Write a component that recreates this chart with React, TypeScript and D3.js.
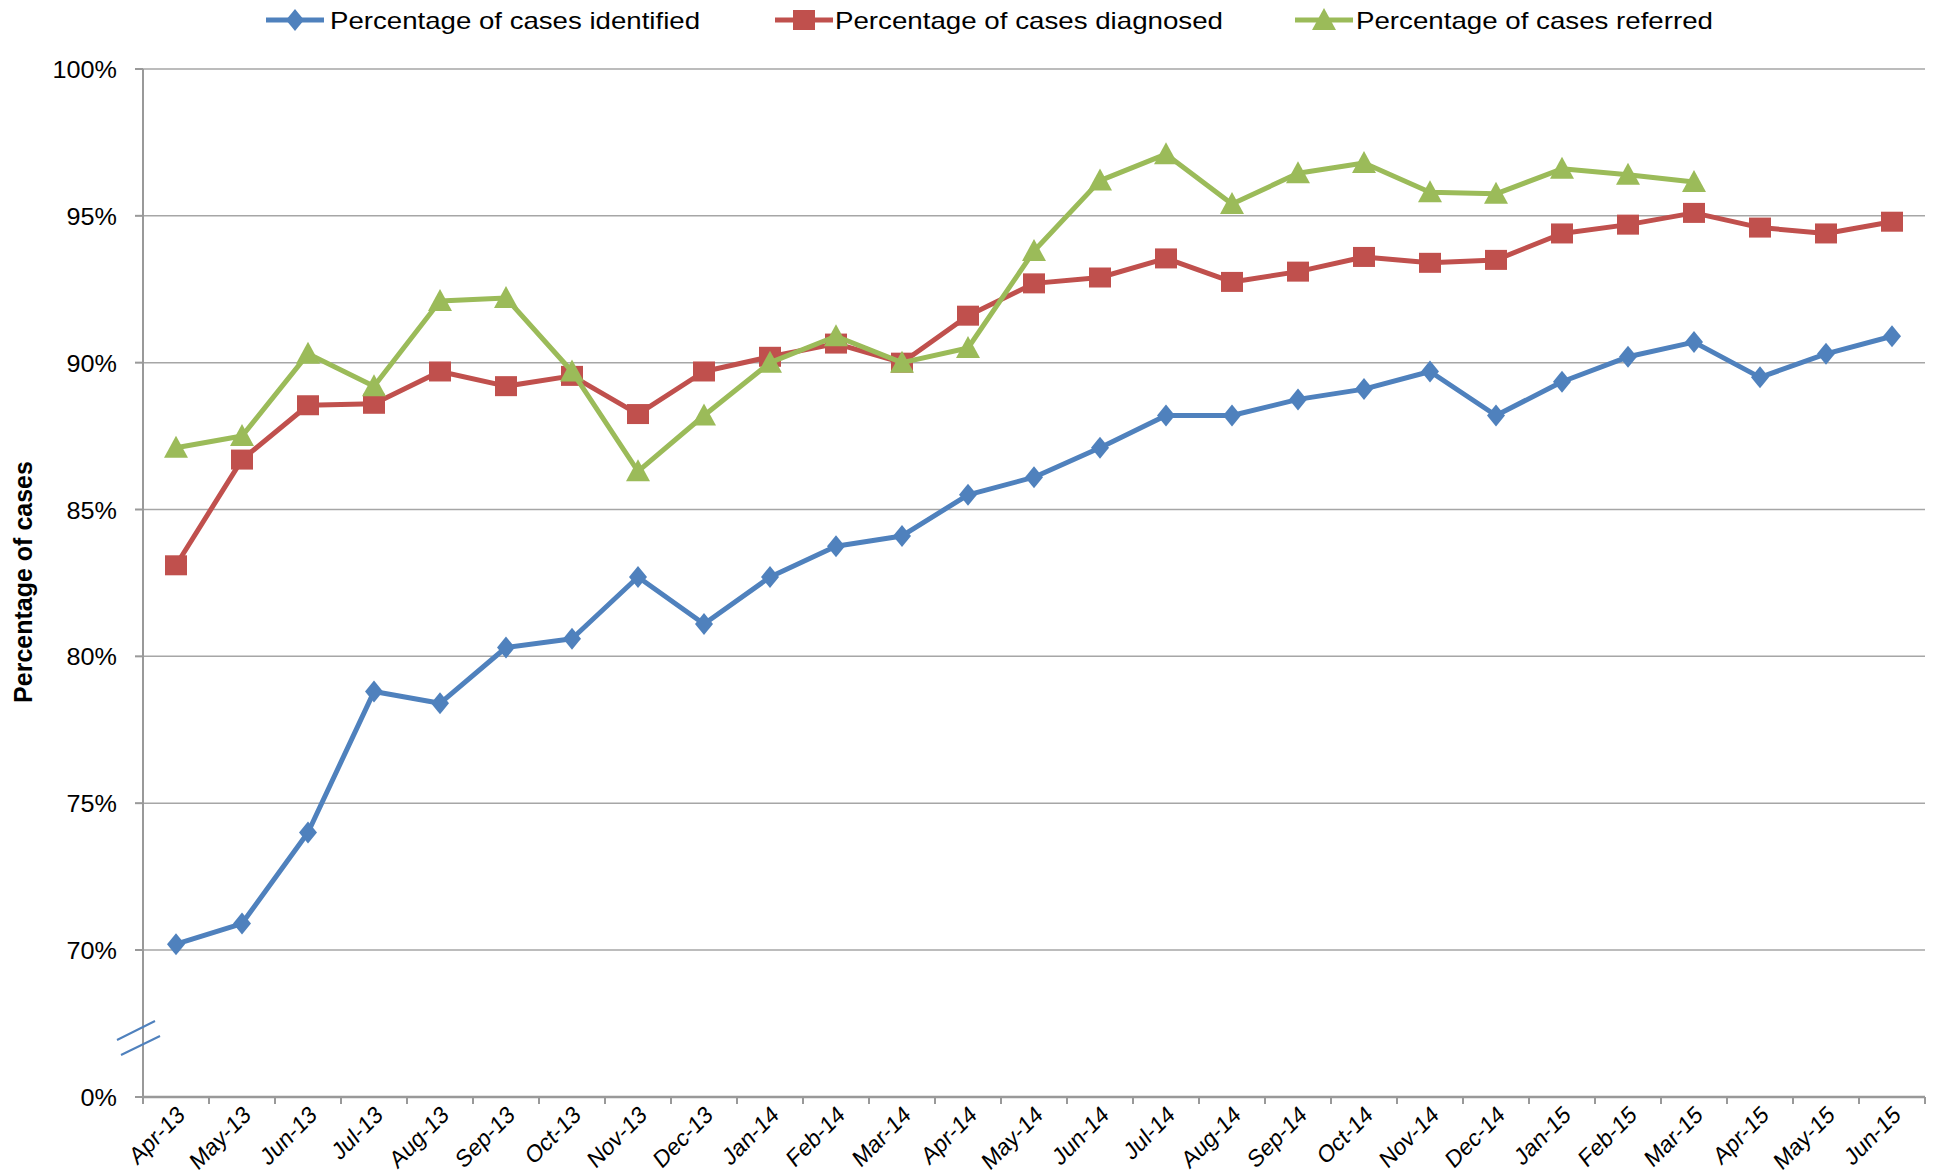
import React from 'react'
import * as d3 from 'd3'

const months = [
  'Apr-13', 'May-13', 'Jun-13', 'Jul-13', 'Aug-13', 'Sep-13', 'Oct-13', 'Nov-13', 'Dec-13',
  'Jan-14', 'Feb-14', 'Mar-14', 'Apr-14', 'May-14', 'Jun-14', 'Jul-14', 'Aug-14', 'Sep-14',
  'Oct-14', 'Nov-14', 'Dec-14', 'Jan-15', 'Feb-15', 'Mar-15', 'Apr-15', 'May-15', 'Jun-15',
]

const identified = [
  70.2, 70.9, 74.0, 78.8, 78.4, 80.3, 80.6, 82.7, 81.1,
  82.7, 83.75, 84.1, 85.5, 86.1, 87.1, 88.2, 88.2, 88.75,
  89.1, 89.7, 88.2, 89.35, 90.2, 90.7, 89.5, 90.3, 90.9,
]

const diagnosed = [
  83.1, 86.7, 88.55, 88.6, 89.7, 89.2, 89.55, 88.25, 89.7,
  90.2, 90.65, 90.0, 91.6, 92.7, 92.9, 93.55, 92.75, 93.1,
  93.6, 93.4, 93.5, 94.4, 94.7, 95.1, 94.6, 94.4, 94.8,
]

const referred: (number | null)[] = [
  87.1, 87.5, 90.3, 89.2, 92.1, 92.2, 89.7, 86.3, 88.2,
  90.0, 90.9, 90.0, 90.5, 93.8, 96.2, 97.1, 95.4, 96.45,
  96.8, 95.8, 95.75, 96.6, 96.4, 96.15, null, null, null,
]

const yTicks = [0, 70, 75, 80, 85, 90, 95, 100]

const seriesNames = [
  'Percentage of cases identified',
  'Percentage of cases diagnosed',
  'Percentage of cases referred',
]
const colors = ['#4F81BD', '#C0504D', '#9BBB59']

const FONT = '"Liberation Sans", Arial, sans-serif'

// plot box
const left = 143
const right = 1925
const top = 69
const bottom = 1097

const Marker = ({ kind, x, y, color }) => {
  if (kind === 0) {
    return <path d={`M${x},${y - 11}L${x + 9},${y}L${x},${y + 11}L${x - 9},${y}Z`} fill={color} />
  }
  if (kind === 1) {
    return <rect x={x - 11} y={y - 10} width={22} height={20} fill={color} />
  }
  return <path d={`M${x},${y - 12}L${x + 12},${y + 10}L${x - 12},${y + 10}Z`} fill={color} />
}

const App = () => {
  const x = d3.scaleBand().domain(months).range([left, right]).padding(0)
  const y = d3.scaleLinear().domain([0, 70, 100]).range([bottom, 950, top])
  const cx = (m) => x(m) + x.bandwidth() / 2

  const all = [identified, diagnosed, referred]
  const line = d3
    .line<number | null>()
    .defined((d) => d != null)
    .x((d, i) => cx(months[i]))
    .y((d) => y(d as number))

  const tickEdges = months.map((m) => x(m)).concat([right])

  // legend layout (start of marker line, text start, text width)
  const legend = [
    { lx: 266, tx: 330, w: 370 },
    { lx: 775, tx: 835, w: 388 },
    { lx: 1295, tx: 1356, w: 357 },
  ]

  return (
    <svg
      width={1937}
      height={1175}
      style={{ position: 'absolute', left: 0, top: 0, background: '#fff' }}
      fontFamily={FONT}
    >
      {/* gridlines */}
      {yTicks.filter((t) => t > 0).map((t) => (
        <line key={t} x1={left} x2={right} y1={y(t)} y2={y(t)} stroke="#A6A6A6" strokeWidth={1.5} />
      ))}
      {/* y axis */}
      <line x1={left} x2={left} y1={top} y2={bottom} stroke="#999" strokeWidth={2} />
      {yTicks.map((t) => (
        <g key={t}>
          <line x1={left - 8} x2={left} y1={y(t)} y2={y(t)} stroke="#999" strokeWidth={2} />
          <text
            transform={`translate(117,${y(t) + 9}) scale(1.05,1)`}
            textAnchor="end"
            fontSize={24}
            fill="#000"
          >
            {t + '%'}
          </text>
        </g>
      ))}
      {/* axis break */}
      <g stroke="#4F81BD" strokeWidth={2}>
        <line x1={117} y1={1040} x2={155} y2={1021} />
        <line x1={121} y1={1055} x2={160} y2={1036} />
      </g>
      {/* x axis */}
      <line x1={left} x2={right} y1={bottom} y2={bottom} stroke="#999" strokeWidth={2.5} />
      {tickEdges.map((e, i) => (
        <line key={i} x1={e} x2={e} y1={bottom} y2={bottom + 7} stroke="#999" strokeWidth={2} />
      ))}
      {months.map((m) => (
        <text
          key={m}
          transform={`translate(${cx(m) + 10},${bottom + 20}) rotate(-45) skewX(-8)`}
          textAnchor="end"
          fontSize={23}
          fill="#000"
        >
          {m}
        </text>
      ))}
      {/* y title */}
      <text
        transform={`translate(32,582) rotate(-90)`}
        textAnchor="middle"
        fontSize={25}
        fontWeight="bold"
        fill="#000"
      >
        Percentage of cases
      </text>
      {/* series */}
      {all.map((s, k) => (
        <g key={k}>
          <path d={line(s) || ''} fill="none" stroke={colors[k]} strokeWidth={5} strokeLinejoin="round" />
          {s.map((v, i) =>
            v == null ? null : <Marker key={i} kind={k} x={cx(months[i])} y={y(v)} color={colors[k]} />
          )}
        </g>
      ))}
      {/* legend */}
      {legend.map((l, k) => (
        <g key={k}>
          <line x1={l.lx} x2={l.lx + 58} y1={20} y2={20} stroke={colors[k]} strokeWidth={5} />
          <Marker kind={k} x={l.lx + 29} y={20} color={colors[k]} />
          <text
            x={l.tx}
            y={29}
            fontSize={24}
            textLength={l.w}
            lengthAdjust="spacingAndGlyphs"
            fill="#000"
          >
            {seriesNames[k]}
          </text>
        </g>
      ))}
    </svg>
  )
}

export default App
